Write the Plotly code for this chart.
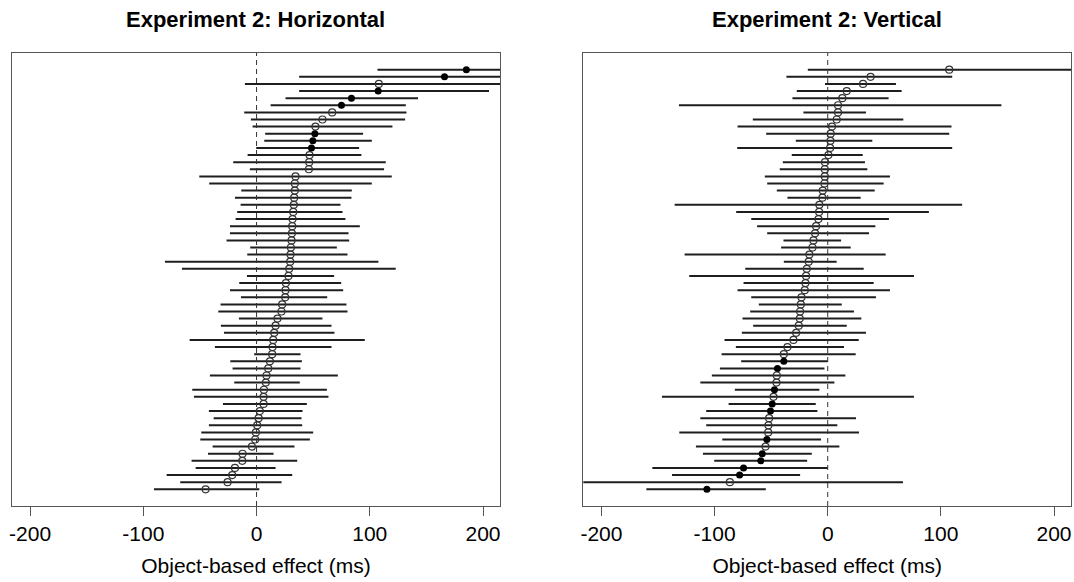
import plotly.graph_objects as go

# ---- Data (rows listed top to bottom) ----
h_mean = [185.3, 166, 108, 107.4, 83.8, 75, 66.8, 58.2, 52, 51.5, 49.7, 48.5, 46.8, 46.5, 46.2,
          34.4, 33.8, 33.8, 33.2, 32.9, 32.4, 31.8, 31.5, 31.2, 30.9, 30.3, 30, 29.7, 28.8, 28.2,
          25.9, 25.6, 25.3, 22.6, 22, 18.5, 16.8, 15.6, 14.7, 14.1, 13.8, 11.8, 10.3, 8.8, 8.2,
          6.5, 6.2, 6.2, 2.9, 1.8, 0.6, -0.6, -1.2, -4.1, -12.4, -12.6, -19.1, -21.5, -25.6, -45]
h_low = [106.8, 37.6, -10.3, 37.6, 25.6, 12.4, -10.9, -5, -3.5, 7.6, 6.8, -0.3, -7.9, -20.6, -5.9,
         -50.6, -41.8, -13.5, -19.1, -14.1, -17.1, -18.5, -23.5, -23.5, -26.5, -5.6, -8.2, -80.9, -65.9, -8.5,
         -15.3, -23.5, -13.8, -31.8, -33.8, -15.6, -31.5, -28.8, -59.1, -36.8, -2.1, -23.2, -21.2, -41.2, -19.7,
         -56.8, -55.3, -29.7, -42.1, -37.9, -42.1, -48.8, -49.7, -38.8, -42.9, -57.4, -53.8, -79.4, -67.4, -90.6]
h_high = [260, 295, 226, 205.3, 142.6, 131.8, 132.4, 131.2, 120, 94.1, 101.8, 90.6, 92.6, 114.1, 112.6,
          119.4, 101.8, 84.1, 83.8, 74.1, 75.9, 78.5, 91.2, 81.2, 81.8, 70.9, 80.3, 107.6, 122.9, 68.5,
          74.7, 76.5, 62.4, 79.4, 80.3, 58.2, 66.2, 68.8, 95.6, 66.2, 38.8, 40, 38.8, 71.8, 38.2,
          62.1, 63.5, 44.4, 40.6, 39.7, 40.3, 50, 47.1, 33.5, 15, 35.9, 16.8, 31.5, 22.1, 2.4]
h_sig_rows = [1, 2, 4, 5, 6, 10, 11, 12]

v_mean = [107.4, 37.9, 31.2, 16.8, 12.9, 9.1, 9.1, 7.9, 3.8, 2.6, 2.4, 2.1, 0.6, -2.4, -2.6,
          -2.6, -2.9, -4.4, -4.7, -7.4, -7.6, -8.2, -10.3, -11.2, -12.6, -13.5, -16.2, -16.8, -18.5, -19.1,
          -19.7, -20.3, -23.2, -23.8, -24.4, -24.7, -25.6, -27.9, -30.3, -35.6, -38.8, -38.8, -44.4, -45, -45.3,
          -47.1, -47.9, -49.1, -50.6, -51.8, -52.4, -52.6, -53.8, -55, -57.9, -59.1, -74.4, -77.9, -86.5, -106.8]
v_low = [-17.6, -36.5, -2.4, -27.4, -31.2, -131.5, -21.5, -66.2, -79.7, -54.4, -28.2, -80, -31.8, -39.7, -42.4,
         -55.6, -53.5, -45, -35.6, -135.3, -80.9, -67.6, -62.4, -53.5, -39.1, -41.2, -126.5, -38.8, -72.9, -122.4,
         -74.4, -79.7, -67.6, -60.9, -68.5, -75.3, -65.9, -75.9, -91.2, -81.2, -93.8, -76.5, -95.3, -102.4, -112.6,
         -82.1, -146.5, -87.6, -107.4, -112.6, -107.4, -131.2, -93.2, -116.5, -110.3, -100.3, -155, -137.6, -240, -160.3]
v_high = [232, 110, 60.3, 65.3, 53.8, 153.5, 33.8, 66.8, 109.4, 107.4, 39.4, 110, 30.9, 32.9, 35,
          55, 49.4, 41.5, 29.1, 118.8, 89.4, 54.1, 42.1, 36.5, 11.8, 20.3, 51.2, 7.9, 31.8, 76.2,
          40.6, 55, 42.6, 12.4, 23.2, 29.7, 16.8, 33.8, 27.4, 14.4, 24.7, 0, -2.9, 15.6, 5.9,
          -7.4, 76.2, -10.6, -9.1, 25, 8.5, 27.6, -5.9, 10.3, -14.1, -18.2, 0, -24.4, 66.5, -54.7]
v_sig_rows = [42, 43, 46, 48, 49, 53, 55, 56, 57, 58, 60]

titles = ["Experiment 2: Horizontal", "Experiment 2: Vertical"]
x_title = "Object-based effect (ms)"
tick_vals = [-200, -100, 0, 100, 200]
tick_text = ["-200", "-100", "0", "100", "200"]

FONT = "Liberation Sans, Arial, Helvetica, sans-serif"

fig = go.Figure()

panels = [(h_mean, h_low, h_high, h_sig_rows), (v_mean, v_low, v_high, v_sig_rows)]
for k, (m, lo, hi, sig) in enumerate(panels):
    xa = "x" if k == 0 else "x2"
    ya = "y" if k == 0 else "y2"
    rows = list(range(1, len(m) + 1))
    sx, sy = [], []
    for r, a, b in zip(rows, lo, hi):
        sx += [a, b, None]
        sy += [r, r, None]
    fig.add_trace(go.Scatter(x=sx, y=sy, mode="lines", xaxis=xa, yaxis=ya,
                             line=dict(color="#1e1e1e", width=2), hoverinfo="skip",
                             showlegend=False))
    ox = [v for r, v in zip(rows, m) if r not in sig]
    oy = [r for r in rows if r not in sig]
    fx = [v for r, v in zip(rows, m) if r in sig]
    fy = [r for r in rows if r in sig]
    fig.add_trace(go.Scatter(x=ox, y=oy, mode="markers", xaxis=xa, yaxis=ya,
                             marker=dict(symbol="circle-open", size=7, color="#333333",
                                         line=dict(width=1.2, color="#333333")),
                             showlegend=False))
    fig.add_trace(go.Scatter(x=fx, y=fy, mode="markers", xaxis=xa, yaxis=ya,
                             marker=dict(symbol="circle", size=7, color="black"),
                             showlegend=False))
    fig.add_shape(type="line", xref=xa, yref="paper",
                  x0=0, x1=0, y0=0, y1=1, line=dict(color="#333333", width=1, dash="5px,4px"))

axis_common = dict(range=[-216, 215], tickvals=tick_vals, ticktext=tick_text,
                   ticks="outside", ticklen=9, tickcolor="#555555", tickwidth=1,
                   showline=True, linecolor="#555555", linewidth=1, mirror=True,
                   showgrid=False, zeroline=False,
                   tickfont=dict(family=FONT, size=21, color="black"),
                   title=dict(text=x_title, font=dict(family=FONT, size=21, color="black"), standoff=14))
yaxis_common = dict(range=[62.35, -1.35], showticklabels=False, ticks="", showgrid=False,
                    zeroline=False, showline=True, linecolor="#555555", linewidth=1, mirror=True)

fig.update_layout(
    width=1074, height=582,
    margin=dict(l=12, r=3, t=53, b=76),
    paper_bgcolor="white", plot_bgcolor="white",
    xaxis=dict(domain=[0, 0.4608], anchor="y", **axis_common),
    xaxis2=dict(domain=[0.5395, 1.0], anchor="y2", **axis_common),
    yaxis=dict(domain=[0, 1], anchor="x", **yaxis_common),
    yaxis2=dict(domain=[0, 1], anchor="x2", **yaxis_common),
    showlegend=False,
    annotations=[
        dict(text="<b>%s</b>" % titles[0], x=(0 + 0.4608) / 2, y=1.0, xref="paper", yref="paper",
             xanchor="center", yanchor="middle", yshift=34, showarrow=False,
             font=dict(family=FONT, size=22, color="black")),
        dict(text="<b>%s</b>" % titles[1], x=(0.5395 + 1.0) / 2, y=1.0, xref="paper", yref="paper",
             xanchor="center", yanchor="middle", yshift=34, showarrow=False,
             font=dict(family=FONT, size=22, color="black")),
    ],
)

fig.write_html("out.html")
